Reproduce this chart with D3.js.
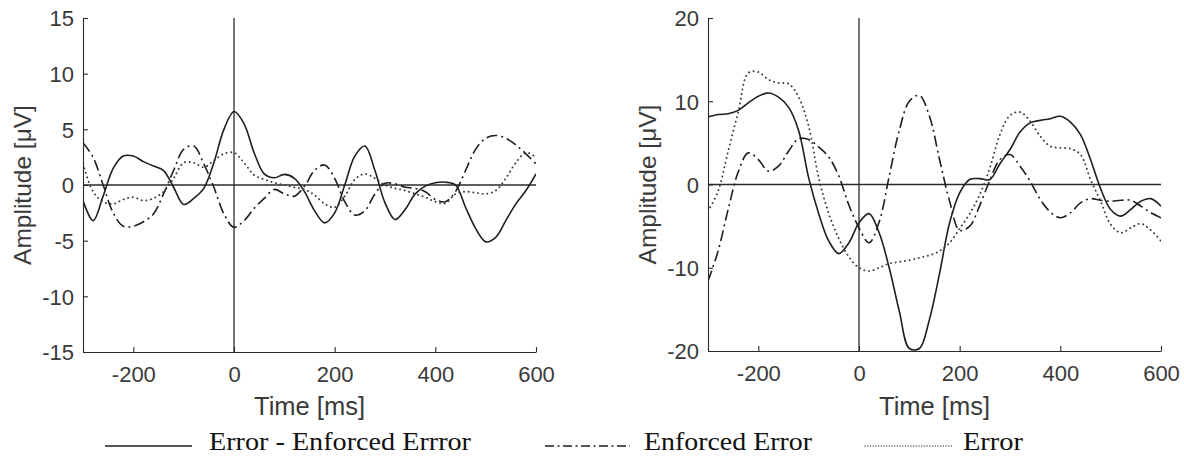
<!DOCTYPE html>
<html>
<head>
<meta charset="utf-8">
<script src="https://cdn.jsdelivr.net/npm/d3@7"></script>
<style>
  html, body { margin: 0; padding: 0; background: #fff; }
  svg { display: block; }
</style>
</head>
<body>
<svg id="chart" width="1184" height="457"></svg>
<script>
// ---------------- DATA ----------------
const times = [-300,-280,-260,-240,-220,-200,-180,-160,-140,-120,-100,-80,-60,-40,-20,0,20,40,60,80,100,120,140,160,180,200,220,240,260,280,300,320,340,360,380,400,420,440,460,480,500,520,540,560,580,600];

// Left panel
const leftDiff =     [-1.4,-3.2,-1.0,1.5,2.6,2.6,2.1,1.7,1.3,-0.2,-1.75,-1.2,-0.3,2.0,5.0,6.6,5.5,2.9,1.0,0.65,0.95,0.6,-0.6,-2.3,-3.4,-2.5,0.0,2.6,3.5,1.3,-1.6,-3.1,-2.2,-0.8,-0.1,0.2,0.25,0.0,-2.0,-3.9,-5.1,-4.7,-3.2,-1.7,-0.5,1.0];
const leftEnforced = [3.8,2.5,0.0,-2.5,-3.7,-3.7,-3.3,-2.6,-0.8,1.3,3.2,3.5,1.9,-0.2,-2.6,-3.8,-3.2,-2.1,-1.2,-0.4,-0.8,-1.0,-0.1,1.3,1.8,0.6,-1.5,-2.7,-2.3,-0.8,0.15,0.1,-0.2,-0.3,-0.6,-1.3,-1.5,-0.6,1.3,3.2,4.2,4.45,4.2,3.6,2.8,1.9];
const leftError =    [1.9,-0.6,-1.5,-1.7,-1.3,-1.1,-1.4,-1.2,-0.6,0.6,2.0,2.0,1.6,2.2,2.8,2.9,2.0,0.9,0.5,0.2,0.0,-0.2,-0.4,-0.9,-1.7,-2.0,-1.0,0.5,1.0,0.6,0.0,-0.3,-0.5,-0.8,-1.1,-1.5,-1.65,-0.8,-0.6,-0.7,-0.8,-0.5,0.6,2.0,2.9,2.5];

// Right panel
const rightDiff =     [8.1,8.4,8.5,8.9,9.8,10.6,11.0,10.5,9.3,6.5,0.8,-3.5,-6.8,-8.3,-7.0,-4.6,-3.5,-5.8,-10.0,-15.2,-19.7,-19.7,-16.2,-10.7,-4.6,-1.0,0.6,0.7,0.6,2.5,4.2,6.3,7.4,7.7,7.9,8.2,7.5,6.0,3.0,-0.5,-3.0,-3.8,-3.0,-2.0,-1.7,-2.6];
const rightEnforced = [-11.6,-8.0,-3.0,1.5,3.8,3.0,1.6,2.2,4.0,5.5,5.4,4.5,3.3,1.0,-2.5,-5.2,-7.0,-4.5,1.0,6.5,10.0,10.7,8.2,3.0,-2.0,-5.5,-5.0,-2.5,0.5,3.0,3.6,2.2,0.4,-1.8,-3.3,-4.0,-3.4,-2.2,-1.7,-1.9,-2.0,-1.9,-1.9,-2.6,-3.4,-4.0];
const rightError =    [-3.2,-0.8,4.0,8.7,13.4,13.5,12.6,12.2,12.1,10.5,7.0,0.8,-3.5,-6.5,-8.7,-10.0,-10.4,-10.0,-9.5,-9.3,-9.1,-8.8,-8.5,-8.0,-7.0,-5.3,-3.5,-1.2,2.0,6.0,8.3,8.7,7.6,5.8,4.6,4.4,4.3,3.6,0.6,-2.0,-4.8,-5.8,-5.2,-4.7,-5.5,-6.8];

// Ticks
const xTicks = [-200, 0, 200, 400, 600];
const leftYTicks = [-15, -10, -5, 0, 5, 10, 15];
const rightYTicks = [-20, -10, 0, 10, 20];

// Legend
const legendLabels = ["Error - Enforced Errror", "Enforced Error", "Error"];

// ---------------- STYLE ----------------
const AX = "#2b2b2b";
const TXT = "#3a3a3a";
const CURVE = "#1e1e1e";
const sansFont = "'Liberation Sans', Arial, sans-serif";
const serifFont = "'Liberation Serif', 'Times New Roman', serif";
const styles = {
  solid:   { dash: null,        width: 1.6, color: "#1e1e1e", cap: "butt" },
  dashdot: { dash: "11,4,2,4",  width: 1.6, color: "#1e1e1e", cap: "butt" },
  dotted:  { dash: "0.1,4.6",   width: 1.9, color: "#3c3c3c", cap: "round" }
};
const fmt = d => String(d);

const svg = d3.select("#chart");

function panel(cfg) {
  const x = d3.scaleLinear().domain([-300, 600]).range([cfg.left, cfg.right]);
  const y = d3.scaleLinear().domain(cfg.yDomain).range([cfg.bottom, cfg.top]);
  const g = svg.append("g");

  const clipId = "clip" + cfg.id;
  svg.append("defs").append("clipPath").attr("id", clipId)
    .append("rect").attr("x", cfg.left).attr("y", cfg.top - 2)
    .attr("width", cfg.right - cfg.left).attr("height", cfg.bottom - cfg.top + 4);

  // zero lines
  g.append("line").attr("x1", x(-300)).attr("x2", x(600)).attr("y1", y(0)).attr("y2", y(0))
    .attr("stroke", AX).attr("stroke-width", 1.3);
  g.append("line").attr("x1", x(0)).attr("x2", x(0)).attr("y1", cfg.top).attr("y2", cfg.bottom)
    .attr("stroke", AX).attr("stroke-width", 1.3);

  // curves
  const line = d3.line()
    .x((d, i) => x(times[i]))
    .y(d => y(d))
    .curve(d3.curveCatmullRom.alpha(0.5));
  const cg = g.append("g").attr("clip-path", `url(#${clipId})`);
  cfg.series.forEach(s => {
    const st = styles[s.style];
    cg.append("path").datum(s.values)
      .attr("d", line)
      .attr("fill", "none")
      .attr("stroke", st.color)
      .attr("stroke-width", st.width)
      .attr("stroke-dasharray", st.dash)
      .attr("stroke-linecap", st.cap);
  });

  // x axis (ticks inside)
  const xAxis = d3.axisBottom(x).tickValues(xTicks).tickFormat(fmt).tickSize(-5).tickPadding(14).tickSizeOuter(0);
  const xg = g.append("g").attr("transform", `translate(0,${cfg.bottom})`).call(xAxis);
  xg.select(".domain").attr("stroke", AX).attr("stroke-width", 1.1);
  xg.selectAll(".tick line").attr("stroke", AX).attr("stroke-width", 1.1);
  xg.selectAll(".tick text").attr("fill", TXT).attr("font-family", sansFont).attr("font-size", 22)
    .attr("dy", "0.71em").attr("y", 14);

  // y axis
  const yAxis = d3.axisLeft(y).tickValues(cfg.yTicks).tickFormat(fmt).tickSize(-5).tickPadding(9).tickSizeOuter(0);
  const yg = g.append("g").attr("transform", `translate(${cfg.left},0)`).call(yAxis);
  yg.select(".domain").attr("stroke", AX).attr("stroke-width", 1.1);
  yg.selectAll(".tick line").attr("stroke", AX).attr("stroke-width", 1.1);
  yg.selectAll(".tick text").attr("fill", TXT).attr("font-family", sansFont).attr("font-size", 22)
    .attr("dy", "0.36em");

  // axis labels
  g.append("text").attr("x", (cfg.left + cfg.right) / 2).attr("y", 415)
    .attr("text-anchor", "middle").attr("fill", TXT)
    .attr("font-family", sansFont).attr("font-size", 25.5).text("Time [ms]");
  g.append("text")
    .attr("transform", `translate(${cfg.left - 52},${(cfg.top + cfg.bottom) / 2}) rotate(-90)`)
    .attr("text-anchor", "middle").attr("fill", TXT)
    .attr("font-family", sansFont).attr("font-size", 24.5).text("Amplitude [\u03BCV]");
}

panel({
  id: "L", left: 83, right: 536, top: 18, bottom: 352,
  yDomain: [-15, 15], yTicks: leftYTicks,
  series: [
    { values: leftDiff, style: "solid" },
    { values: leftEnforced, style: "dashdot" },
    { values: leftError, style: "dotted" }
  ]
});
panel({
  id: "R", left: 708, right: 1161, top: 18, bottom: 351,
  yDomain: [-20, 20], yTicks: rightYTicks,
  series: [
    { values: rightDiff, style: "solid" },
    { values: rightEnforced, style: "dashdot" },
    { values: rightError, style: "dotted" }
  ]
});

// legend
const legendItems = [
  { label: legendLabels[0], style: "solid",   x1: 105, x2: 192, tx: 209, w: 262 },
  { label: legendLabels[1], style: "dashdot", x1: 545, x2: 630, tx: 644, w: 168 },
  { label: legendLabels[2], style: "dotted",  x1: 865, x2: 953, tx: 963, w: 60 }
];
const lg = svg.append("g");
legendItems.forEach(it => {
  const dash = it.style === "dotted" ? "0.1,2.6" : (it.style === "dashdot" ? "9,3.5,2,3.5" : null);
  lg.append("line").attr("x1", it.x1).attr("x2", it.x2).attr("y1", 446).attr("y2", 446)
    .attr("stroke", it.style === "dotted" ? "#555" : CURVE)
    .attr("stroke-width", it.style === "dotted" ? 1.3 : 1.6)
    .attr("stroke-linecap", it.style === "dotted" ? "round" : "butt")
    .attr("stroke-dasharray", dash);
  lg.append("text").attr("x", it.tx).attr("y", 450)
    .attr("fill", "#111").attr("font-family", serifFont).attr("font-size", 25)
    .attr("textLength", it.w).attr("lengthAdjust", "spacingAndGlyphs")
    .text(it.label);
});
</script>
</body>
</html>
